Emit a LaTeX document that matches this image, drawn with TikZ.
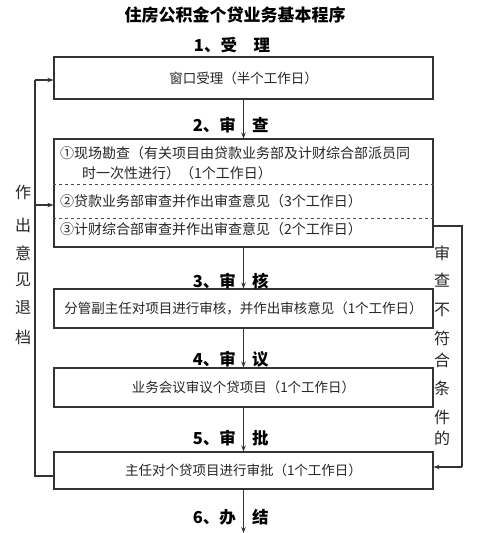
\documentclass[tikz,border=0pt]{standalone}
\usepackage{fontspec}
\setmainfont{Noto Sans CJK SC}
\usetikzlibrary{arrows.meta,calc}
\begin{document}
\begin{tikzpicture}[x=1pt,y=-1pt,
  line/.style={draw=black!80,line width=1.1pt},
  arr/.style={line,-{Stealth[length=6pt,width=4.5pt]}},
  box/.style={draw=black!80,line width=1.1pt,minimum width=379pt,inner sep=0pt,font=\fontsize{13.5}{16}\selectfont,text=black!85},
  lbl/.style={font=\fontsize{16.5}{18}\selectfont\bfseries,inner sep=0pt},
  side/.style={font=\fontsize{16}{18}\selectfont,inner sep=0pt,text=black!85},
  itm/.style={font=\fontsize{14}{16}\selectfont,inner sep=0pt,anchor=west,text=black!85}]
\useasboundingbox[fill=white] (0,0) rectangle (480,533);
\node[lbl,font=\fontsize{17}{19}\selectfont\bfseries] (title) at (235,15) {住房公积金个贷业务基本程序};
\node[lbl] (l1) at (232,45) {1、受\hspace{1em}理};
\node[box,minimum height=42pt] (b1) at (243.5,78) {窗口受理（半个工作日）};
\node[box,minimum height=108pt] (b2) at (243.5,193) {};
\node[itm] (t21) at (60,153) {①现场勘查（有关项目由贷款业务部及计财综合部派员同};
\node[itm] (t22) at (82,173) {时一次性进行）（1个工作日）};
\node[itm] (t23) at (60,201) {②贷款业务部审查并作出审查意见（3个工作日）};
\node[itm] (t24) at (60,229) {③计财综合部审查并作出审查意见（2个工作日）};
\draw[black!70,dashed,line width=0.7pt] (b2.west |- 0,184) -- (b2.east |- 0,184);
\draw[black!70,dashed,line width=0.7pt] (b2.west |- 0,218) -- (b2.east |- 0,218);
\node[box,minimum height=39pt] (b3) at (243.5,308.5) {分管副主任对项目进行审核，并作出审核意见（1个工作日）};
\node[box,minimum height=39pt] (b4) at (243.5,387.5) {业务会议审议个贷项目（1个工作日）};
\node[box,minimum height=37pt] (b5) at (243.5,470.5) {主任对个贷项目进行审批（1个工作日）};
\coordinate (end) at (243.5,533);
% stage labels
\node[lbl,anchor=east] (l2a) at (236,125) {2、审};
\node[lbl,anchor=west] (l2b) at (252,125) {查};
\node[lbl,anchor=east] (l3a) at (236,281) {3、审};
\node[lbl,anchor=west] (l3b) at (252,281) {核};
\node[lbl,anchor=east] (l4a) at (236,359) {4、审};
\node[lbl,anchor=west] (l4b) at (252,359) {议};
\node[lbl,anchor=east] (l5a) at (236,438) {5、审};
\node[lbl,anchor=west] (l5b) at (252,438) {批};
\node[lbl,anchor=east] (l6a) at (236,517) {6、办};
\node[lbl,anchor=west] (l6b) at (252,517) {结};
% main arrows
\draw[arr] (b1.south) -- (b2.north);
\draw[arr] (b2.south) -- (b3.north);
\draw[arr] (b3.south) -- (b4.north);
\draw[arr] (b4.south) -- (b5.north);
\draw[arr] (b5.south) -- (end);
% left return loop
\coordinate (lt) at (35,80);
\coordinate (lm) at (35,205);
\coordinate (lb) at (35,476);
\draw[line] (b5.west |- lb) -- (lb) -- (lt);
\draw[arr] (lt) -- (b1.west |- lt);
\draw[arr] (lm) -- (b2.west |- lm);
% right loop
\coordinate (rt) at (462,226);
\coordinate (rb) at (462,467);
\draw[line] (b2.east |- rt) -- (rt) -- (rb);
\draw[arr] (rb) -- (b5.east |- rb);
% side texts
\node[side] (s1) at (23,192) {作};
\node[side] (s2) at (23,225) {出};
\node[side] (s3) at (23,253) {意};
\node[side] (s4) at (23,280) {见};
\node[side] (s5) at (23,308) {退};
\node[side] (s6) at (23,337) {档};
\node[side] (r1) at (442,253) {审};
\node[side] (r2) at (442,280) {查};
\node[side] (r3) at (442,310) {不};
\node[side] (r4) at (442,338) {符};
\node[side] (r5) at (442,360) {合};
\node[side] (r6) at (442,388) {条};
\node[side] (r7) at (442,417) {件};
\node[side] (r8) at (442,438) {的};
\end{tikzpicture}
\end{document}
